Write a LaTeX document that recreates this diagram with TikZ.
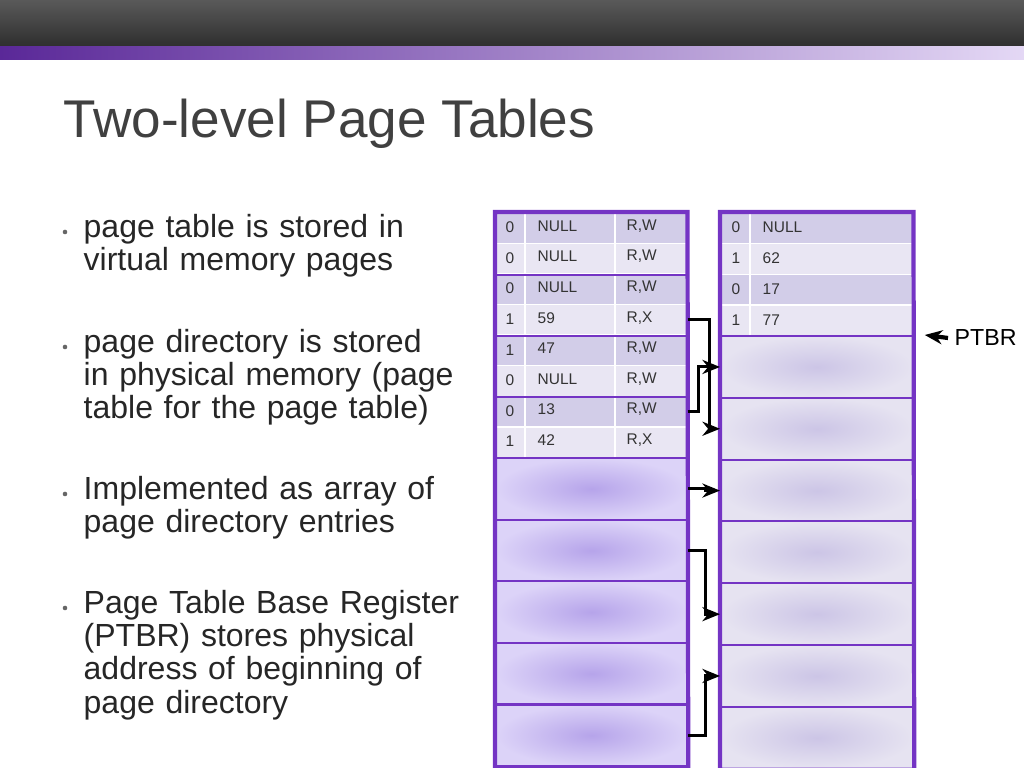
\documentclass[tikz,border=0pt]{standalone}
\usepackage{fontspec}
\setmainfont{Liberation Sans}
\usetikzlibrary{positioning,arrows.meta}
\definecolor{pborder}{HTML}{7434C4}
\definecolor{rowdark}{HTML}{D2CDE8}
\definecolor{rowlight}{HTML}{E9E6F3}
\definecolor{blkin}{HTML}{B6A4EA}
\definecolor{blkout}{HTML}{DCD3F8}
\definecolor{rblkin}{HTML}{CCC5E6}
\definecolor{rblkout}{HTML}{E6E3F1}
\definecolor{stripl}{HTML}{5A2898}
\definecolor{stripr}{HTML}{E4D8F5}
\newcommand{\tinyfont}{\fontsize{4.4}{5}\selectfont}
\newcommand{\bulletfont}{\fontsize{9.1}{9.4}\selectfont\hyphenpenalty=10000\exhyphenpenalty=10000}

\begin{document}
\begin{tikzpicture}[>={Stealth[length=5pt,width=4pt]}, x=0.01cm, y=-0.01cm, line join=miter]
  \tikzset{cell/.style = { draw=white, line width=0.4pt, rectangle, inner sep=0pt, minimum width=1.91cm, minimum height=0.307cm, anchor=north west}}
  \tikzset{rcell/.style = { cell, minimum width=1.92cm, minimum height=0.308cm}}
  \tikzset{block/.style = { draw=pborder, line width=0.6pt, rectangle, inner sep=0pt, minimum width=1.91cm, minimum height=0.616cm, anchor=north west, inner color=blkin, outer color=blkout}}
  \tikzset{rblock/.style = { block, minimum width=1.92cm, minimum height=0.618cm, inner color=rblkin, outer color=rblkout}}
  \tikzset{txt/.style = { inner sep=0pt, anchor=west, font=\tinyfont, text=black!80}}
  \tikzset{link/.style = { ->, line width=0.85pt}}
  \tikzset{bul/.style = { anchor=north west, inner sep=0pt, align=left, text width=4.0cm, font=\bulletfont, text=black!85}}
  \useasboundingbox (0,0) rectangle (1024,768);

  % header bars
  \shade[top color=black!65, bottom color=black!82] (0,0) rectangle (1024,47);
  \shade[left color=stripl, right color=stripr] (0,47) rectangle (1024,60);
  \node[name = title, anchor=base west, inner sep=0pt, font=\fontsize{15.1}{17}\selectfont, text=black!75] at (63,138) {Two-level Page Tables};

  % bullets
  \foreach \by/\btext in {214/{page table is stored in virtual memory pages},
                          329/{page directory is stored in physical memory (page table for the page table)},
                          476/{Implemented as array of page directory entries},
                          590/{Page Table Base Register (PTBR) stores physical address of beginning of page directory}}
    \node[bul] at (83,\by) {\btext};
  \foreach \by in {232,347,494,608}
    \fill[black!60] (65,\by) circle (2.3);

  % page directory (left)
  \foreach \i/\a/\b/\c in {1/0/NULL/{R,W}, 2/0/NULL/{R,W}, 3/0/NULL/{R,W}, 4/1/59/{R,X},
                           5/1/47/{R,W}, 6/0/NULL/{R,W}, 7/0/13/{R,W}, 8/1/42/{R,X}}{
    \pgfmathsetmacro{\yy}{212+30.6*(\i-1)}
    \pgfmathtruncatemacro{\odd}{mod(\i,2)}
    \ifnum\odd=1 \def\fc{rowdark}\else\def\fc{rowlight}\fi
    \node[name = L\i, cell, fill=\fc] at (495,\yy) {};
    \draw[white, line width=0.8pt] (525,\yy) -- ++(0,30.6) (615,\yy) -- ++(0,30.6);
    \node[txt] at (505,\yy+15.3) {\a};
    \node[txt] at (537,\yy+14) {\b};
    \node[txt] at (626,\yy+14) {\c};
  }
  \foreach \i in {1,...,5}
    \node[name = LB\i, block] at (495,{457+61.6*(\i-1)}) {};
  \draw[pborder, line width=0.5pt] (L2.south west) -- (L2.south east) (L4.south west) -- (L4.south east) (L6.south west) -- (L6.south east) (L8.south west) -- (L8.south east);
  \draw[pborder, line width=1.2pt] (L1.north west) -- (LB5.south west) -- (LB5.south east) -- (L1.north east) -- cycle;

  % page table (right)
  \foreach \i/\a/\b in {1/0/NULL, 2/1/62, 3/0/17, 4/1/77}{
    \pgfmathsetmacro{\yy}{212+30.8*(\i-1)}
    \pgfmathtruncatemacro{\odd}{mod(\i,2)}
    \ifnum\odd=1 \def\fc{rowdark}\else\def\fc{rowlight}\fi
    \node[name = R\i, rcell, fill=\fc] at (720,\yy) {};
    \draw[white, line width=0.8pt] (750,\yy) -- ++(0,30.8);
    \node[txt] at (731,\yy+15.4) {\a};
    \node[txt] at (762,\yy+15.4) {\b};
  }
  \foreach \i in {1,...,7}
    \node[name = RB\i, rblock] at (720,{335+61.8*(\i-1)}) {};
  \draw[pborder, line width=1.2pt] (R1.north west) -- (RB7.south west) -- (RB7.south east) -- (R1.north east) -- cycle;

  % pointers
  \draw[link] (L4.east) -- ++(22,0) |- (RB2.west);
  \draw[link] (L7.east) -- ++(11,0) |- (RB1.west);
  \draw[link] (LB1.east) -- ++(17,0) |- (RB3.west);
  \draw[link] (LB2.east) -- ++(17,0) |- (RB5.west);
  \draw[link] (LB5.east) -- ++(17,0) |- (RB6.west);

  % base register
  \node[name = ptbr, anchor=west, inner sep=0pt, font=\fontsize{6.6}{8}\selectfont] at (954,338) {PTBR};
  \coordinate (ptbrend) at (RB1.north east);
  \draw[link, line width=1.2pt] (ptbr.west) ++(-6,0) -- ([xshift=3]ptbrend);
\end{tikzpicture}
\end{document}
